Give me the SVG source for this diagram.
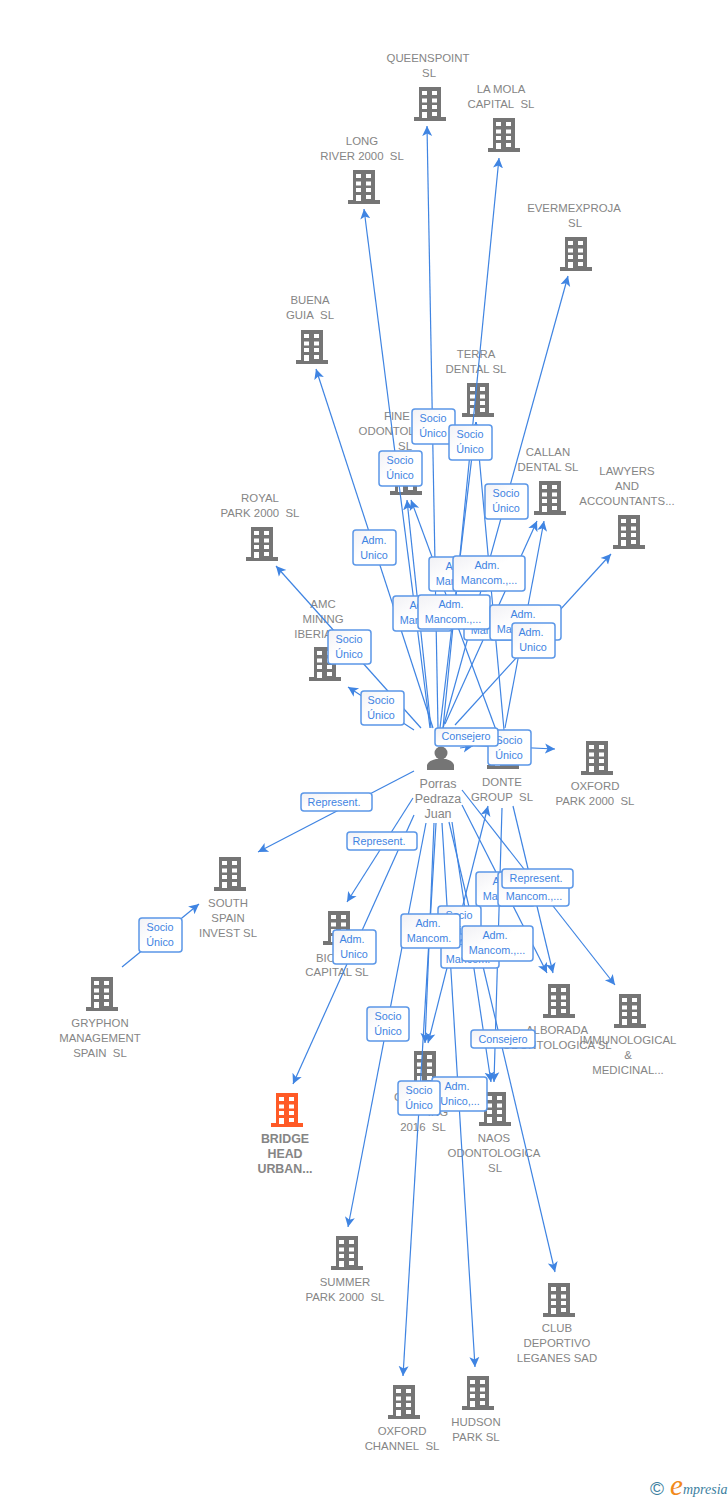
<svg xmlns="http://www.w3.org/2000/svg" width="728" height="1500" viewBox="0 0 728 1500">
<style>
text{font-family:"Liberation Sans",Arial,sans-serif}
.n text{font-size:11.4px;fill:#858585;text-anchor:middle}
.n text.h{font-size:12.4px;font-weight:bold}
.n text.p{font-size:12.5px}
.b{fill:#757575}
.o{fill:#ff5a26}
#connectors line{stroke:#3f84e2;stroke-width:1.2;fill:none}
.a{marker-end:url(#ah)}
.l rect{fill:url(#lg);stroke:#5b97e8;stroke-width:1.5}
.l text{font-size:10.8px;fill:#3f84e2;text-anchor:middle}
</style>
<defs>
<linearGradient id="lg" x1="0" y1="0" x2="1" y2="1"><stop offset="0" stop-color="#f1f1f5"/><stop offset=".45" stop-color="#fff"/><stop offset="1" stop-color="#fff"/></linearGradient>
<marker id="ah" markerUnits="userSpaceOnUse" markerWidth="14" markerHeight="14" refX="10" refY="6" orient="auto"><path d="M0,1 L10,6 L0,11 L2.5,6Z" fill="#3f84e2"/></marker>
<marker id="as" markerUnits="userSpaceOnUse" markerWidth="14" markerHeight="14" refX="0" refY="6" orient="auto"><path d="M10,1 L0,6 L10,11 L7.5,6Z" fill="#3f84e2"/></marker>
<path id="bd" fill-rule="evenodd" d="M5,0H27V30H32V34H0V30H5ZM8,4V8H13V4ZM18,4V8H23V4ZM8,11.500V15.500H13V11.500ZM18,11.500V15.500H23V11.500ZM8,18V22H13V18ZM18,18V22H23V18ZM8,25V31H13V25ZM18,25V29H23V25Z"/>
</defs>
<rect width="728" height="1500" fill="#fff"/>

<g id="n-queenspoint" class="n"><use href="#bd" x="414" y="87" class="b"/><text x="428" y="62">QUEENSPOINT</text><text x="429" y="77">SL</text></g>
<g id="n-lamola" class="n"><use href="#bd" x="488" y="118" class="b"/><text x="501" y="93">LA MOLA</text><text x="501" y="108">CAPITAL&#160; SL</text></g>
<g id="n-longriver" class="n"><use href="#bd" x="348" y="170" class="b"/><text x="362" y="145">LONG</text><text x="362" y="160">RIVER 2000&#160; SL</text></g>
<g id="n-evermexproja" class="n"><use href="#bd" x="560" y="237" class="b"/><text x="574" y="212">EVERMEXPROJA</text><text x="575" y="227">SL</text></g>
<g id="n-buenaguia" class="n"><use href="#bd" x="296" y="330" class="b"/><text x="310" y="304">BUENA</text><text x="310" y="319">GUIA&#160; SL</text></g>
<g id="n-terra" class="n"><use href="#bd" x="462" y="383" class="b"/><text x="476" y="358">TERRA</text><text x="476" y="373">DENTAL SL</text></g>
<g id="n-fine" class="n"><use href="#bd" x="390" y="461" class="b"/><text x="384" y="420" style="text-anchor:start">FINE</text><text x="405" y="435">ODONTOLOGICA</text><text x="405" y="450">SL</text></g>
<g id="n-callan" class="n"><use href="#bd" x="534" y="481" class="b"/><text x="548" y="456">CALLAN</text><text x="548" y="471">DENTAL SL</text></g>
<g id="n-lawyers" class="n"><use href="#bd" x="613" y="515" class="b"/><text x="627" y="475">LAWYERS</text><text x="627" y="490">AND</text><text x="627" y="505">ACCOUNTANTS...</text></g>
<g id="n-royal" class="n"><use href="#bd" x="246" y="527" class="b"/><text x="260" y="502">ROYAL</text><text x="260" y="517">PARK 2000&#160; SL</text></g>
<g id="n-amc" class="n"><use href="#bd" x="309" y="647" class="b"/><text x="323" y="608">AMC</text><text x="323" y="623">MINING</text><text x="313" y="638">IBERIA</text></g>
<g id="n-donte" class="n"><use href="#bd" x="487" y="735" class="b"/><text x="502" y="786">DONTE</text><text x="502" y="801">GROUP&#160; SL</text></g>
<g id="n-oxfordpark" class="n"><use href="#bd" x="581" y="741" class="b"/><text x="595" y="790">OXFORD</text><text x="595" y="805">PARK 2000&#160; SL</text></g>
<g id="n-south" class="n"><use href="#bd" x="214" y="857" class="b"/><text x="228" y="907">SOUTH</text><text x="228" y="922">SPAIN</text><text x="228" y="937">INVEST SL</text></g>
<g id="n-bio" class="n"><use href="#bd" x="323" y="911" class="b"/><text x="316" y="962" style="text-anchor:start">BIO</text><text x="337" y="976">CAPITAL SL</text></g>
<g id="n-gryphon" class="n"><use href="#bd" x="86" y="977" class="b"/><text x="100" y="1027">GRYPHON</text><text x="100" y="1042">MANAGEMENT</text><text x="100" y="1057">SPAIN&#160; SL</text></g>
<g id="n-alborada" class="n"><use href="#bd" x="543" y="984" class="b"/><text x="557" y="1034">ALBORADA</text><text x="557" y="1049">ODONTOLOGICA SL</text></g>
<g id="n-immuno" class="n"><use href="#bd" x="614" y="994" class="b"/><text x="628" y="1044">IMMUNOLOGICAL</text><text x="628" y="1059">&amp;</text><text x="628" y="1074">MEDICINAL...</text></g>
<g id="n-consulting" class="n"><use href="#bd" x="409" y="1051" class="b"/><text x="394" y="1101" style="text-anchor:start">G</text><text x="448" y="1116" style="text-anchor:end">ING</text><text x="423" y="1131">2016&#160; SL</text></g>
<g id="n-naos" class="n"><use href="#bd" x="479" y="1092" class="b"/><text x="494" y="1142">NAOS</text><text x="494" y="1157">ODONTOLOGICA</text><text x="495" y="1172">SL</text></g>
<g id="n-bridge" class="n"><use href="#bd" x="271" y="1093" class="o"/><text class="h" x="285" y="1143">BRIDGE</text><text class="h" x="285" y="1158">HEAD</text><text class="h" x="285" y="1173">URBAN...</text></g>
<g id="n-summer" class="n"><use href="#bd" x="331" y="1236" class="b"/><text x="345" y="1286">SUMMER</text><text x="345" y="1301">PARK 2000&#160; SL</text></g>
<g id="n-club" class="n"><use href="#bd" x="543" y="1283" class="b"/><text x="557" y="1332">CLUB</text><text x="557" y="1347">DEPORTIVO</text><text x="557" y="1362">LEGANES SAD</text></g>
<g id="n-oxfordchannel" class="n"><use href="#bd" x="388" y="1385" class="b"/><text x="402" y="1435">OXFORD</text><text x="402" y="1450">CHANNEL&#160; SL</text></g>
<g id="n-hudson" class="n"><use href="#bd" x="462" y="1376" class="b"/><text x="476" y="1426">HUDSON</text><text x="476" y="1441">PARK SL</text></g>
<g id="n-porras" class="n"><circle cx="441" cy="753" r="6.500" class="b"/><path d="M427,770V765Q428,761 436,759H446Q453,761 454,765V770Z" class="b"/><text class="p" x="438" y="788">Porras</text><text class="p" x="438" y="803">Pedraza</text><text class="p" x="438" y="818">Juan</text></g>

<g id="connectors">
<line class="a" x1="438" y1="728" x2="427" y2="126"/>
<line class="a" x1="443" y1="728" x2="499" y2="158"/>
<line class="a" x1="430" y1="728" x2="364" y2="209"/>
<line class="a" x1="443" y1="728" x2="568" y2="276"/>
<line class="a" x1="433" y1="728" x2="316" y2="369"/>
<line class="a" x1="440" y1="728" x2="476" y2="422"/>
<line class="a" x1="431" y1="728" x2="407" y2="500"/>
<line class="a" x1="496" y1="730" x2="411" y2="500"/>
<line class="a" x1="504" y1="730" x2="476" y2="422"/>
<line class="a" x1="445" y1="724" x2="537" y2="521"/>
<line class="a" x1="505" y1="728" x2="544" y2="521"/>
<line class="a" x1="455" y1="725" x2="611" y2="554"/>
<line class="a" x1="421" y1="728" x2="276" y2="566"/>
<line class="a" x1="414" y1="730" x2="348" y2="687"/>
<line class="a" x1="463" y1="745" x2="555" y2="749"/>
<line class="a" x1="460" y1="748" x2="473" y2="746"/>
<line class="a" x1="122" y1="967" x2="199" y2="904"/>
<line class="a" x1="414" y1="771" x2="258" y2="852"/>
<line class="a" x1="413" y1="798" x2="347" y2="902"/>
<line class="a" x1="414" y1="815" x2="293" y2="1084"/>
<line class="a" x1="426" y1="823" x2="348" y2="1227"/>
<line class="a" x1="436" y1="823" x2="403" y2="1376"/>
<line class="a" x1="442" y1="823" x2="475" y2="1367"/>
<line class="a" x1="434" y1="823" x2="425" y2="1043"/>
<line class="a" x1="452" y1="822" x2="491" y2="1082"/>
<line class="a" x1="449" y1="822" x2="555" y2="1272"/>
<line class="a" x1="502" y1="808" x2="494" y2="1082"/>
<line class="a" x1="513" y1="806" x2="553" y2="973"/>
<line class="a" x1="462" y1="805" x2="547" y2="973"/>
<line class="a" x1="462" y1="790" x2="615" y2="985"/>
<line class="a" x1="428" y1="1043" x2="488" y2="806" style="marker-start:url(#as)"/>

<g class="l"><rect x="412" y="409" width="43" height="35" rx="3"/><text x="433" y="422">Socio</text><text x="433" y="437">Único</text></g>
<g class="l"><rect x="449" y="425" width="43" height="35" rx="3"/><text x="470" y="438">Socio</text><text x="470" y="453">Único</text></g>
<g class="l"><rect x="379" y="451" width="43" height="35" rx="3"/><text x="400" y="464">Socio</text><text x="400" y="479">Único</text></g>
<g class="l"><rect x="485" y="484" width="43" height="35" rx="3"/><text x="506" y="497">Socio</text><text x="506" y="512">Único</text></g>
<g class="l"><rect x="353" y="530" width="43" height="35" rx="3"/><text x="374" y="544">Adm.</text><text x="374" y="559">Unico</text></g>
<g class="l"><rect x="429" y="557" width="59" height="34" rx="3"/><text x="458" y="570">Adm.</text><text x="458" y="585">Mancom.</text></g>
<g class="l"><rect x="453" y="556" width="72" height="35" rx="3"/><text x="487" y="569">Adm.</text><text x="489" y="584">Mancom.,...</text></g>
<g class="l"><rect x="393" y="596" width="59" height="35" rx="3"/><text x="422" y="609">Adm.</text><text x="422" y="624">Mancom.</text></g>
<g class="l"><rect x="464" y="606" width="59" height="34" rx="3"/><text x="493" y="619">Adm.</text><text x="493" y="634">Mancom.</text></g>
<g class="l"><rect x="418" y="595" width="72" height="34" rx="3"/><text x="451" y="608">Adm.</text><text x="453" y="623">Mancom.,...</text></g>
<g class="l"><rect x="490" y="605" width="71" height="35" rx="3"/><text x="523" y="618">Adm.</text><text x="525" y="633">Mancom.,...</text></g>
<g class="l"><rect x="512" y="623" width="43" height="35" rx="3"/><text x="531" y="636">Adm.</text><text x="533" y="651">Unico</text></g>
<g class="l"><rect x="328" y="630" width="43" height="34" rx="3"/><text x="349" y="643">Socio</text><text x="349" y="658">Único</text></g>
<g class="l"><rect x="361" y="691" width="43" height="34" rx="3"/><text x="381" y="704">Socio</text><text x="381" y="719">Único</text></g>
<g class="l"><rect x="488" y="730" width="43" height="35" rx="3"/><text x="509" y="744">Socio</text><text x="509" y="759">Único</text></g>
<g class="l"><rect x="435" y="728" width="63" height="18" rx="3"/><text x="466" y="740">Consejero</text></g>
<g class="l"><rect x="301" y="793" width="71" height="18" rx="3"/><text x="334" y="806">Represent.</text></g>
<g class="l"><rect x="347" y="832" width="70" height="18" rx="3"/><text x="379" y="845">Represent.</text></g>
<g class="l"><rect x="139" y="918" width="43" height="34" rx="3"/><text x="160" y="931">Socio</text><text x="160" y="946">Único</text></g>
<g class="l"><rect x="476" y="872" width="59" height="34" rx="3"/><text x="505" y="885">Adm.</text><text x="505" y="900">Mancom.</text></g>
<g class="l"><rect x="498" y="872" width="71" height="34" rx="3"/><text x="532" y="885">Adm.</text><text x="534" y="900">Mancom.,...</text></g>
<g class="l"><rect x="502" y="869" width="71" height="19" rx="3"/><text x="536" y="882">Represent.</text></g>
<g class="l"><rect x="438" y="906" width="43" height="34" rx="3"/><text x="459" y="919">Socio</text><text x="459" y="934">Único</text></g>
<g class="l"><rect x="441" y="934" width="58" height="34" rx="3"/><text x="470" y="947">Adm.</text><text x="468" y="963">Mancom.</text></g>
<g class="l"><rect x="462" y="926" width="71" height="35" rx="3"/><text x="495" y="939">Adm.</text><text x="497" y="954">Mancom.,...</text></g>
<g class="l"><rect x="401" y="914" width="59" height="34" rx="3"/><text x="428" y="927">Adm.</text><text x="429" y="942">Mancom.</text></g>
<g class="l"><rect x="333" y="930" width="43" height="34" rx="3"/><text x="352" y="943">Adm.</text><text x="354" y="958">Unico</text></g>
<g class="l"><rect x="367" y="1007" width="42" height="34" rx="3"/><text x="388" y="1020">Socio</text><text x="388" y="1035">Único</text></g>
<g class="l"><rect x="471" y="1030" width="64" height="18" rx="3"/><text x="503" y="1043">Consejero</text></g>
<g class="l"><rect x="432" y="1077" width="55" height="34" rx="3"/><text x="457" y="1090">Adm.</text><text x="460" y="1105">Unico,...</text></g>
<g class="l"><rect x="398" y="1081" width="42" height="34" rx="3"/><text x="419" y="1094">Socio</text><text x="419" y="1109">Único</text></g>
</g>

<g id="logo"><text x="650" y="1495" style="font-size:19px;fill:#3d7f9f">©</text><text x="670" y="1495" style="font-family:'Liberation Serif',serif;font-style:italic;font-size:29px;fill:#f28a1a">e</text><text x="683" y="1494" style="font-family:'Liberation Serif',serif;font-style:italic;font-size:14px;fill:#3d7f9f">mpresia</text></g>
</svg>
